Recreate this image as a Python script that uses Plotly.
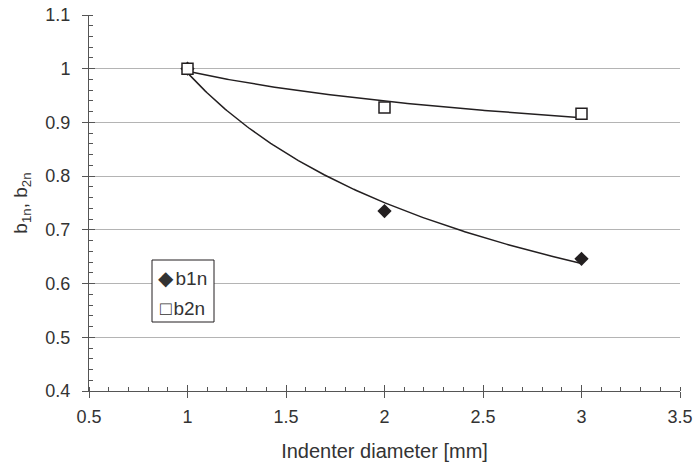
import numpy as np
import plotly.graph_objects as go

diam = [1, 2, 3]
b1n = [1.0, 0.735, 0.646]
b2n = [1.0, 0.928, 0.916]
series_names = ["b1n", "b2n"]

x_title = "Indenter diameter [mm]"
y_title = "b<sub>1n</sub>, b<sub>2n</sub>"

def power_fit(x, y):
    b, lna = np.polyfit(np.log(x), np.log(y), 1)
    xs = np.linspace(min(x), max(x), 200)
    return xs, np.exp(lna) * xs ** b

FONT = "Liberation Sans, Arial, sans-serif"
TXT = "#333333"
LINE = "#231f20"
AX = "#555555"

fig = go.Figure()

for ys in (b1n, b2n):
    xs, yf = power_fit(diam, ys)
    fig.add_trace(go.Scatter(x=xs, y=yf, mode="lines", line=dict(color=LINE, width=1.5),
                             showlegend=False, hoverinfo="skip"))

fig.add_trace(go.Scatter(x=diam, y=b1n, mode="markers", name=series_names[0], showlegend=False,
                         marker=dict(symbol="diamond", size=11, color=LINE)))
fig.add_trace(go.Scatter(x=diam, y=b2n, mode="markers", name=series_names[1], showlegend=False,
                         marker=dict(symbol="square", size=11, color="white",
                                     line=dict(width=1.5, color=LINE))))

# helper invisible trace for the overlay axes (inside half of the crossing major ticks)
fig.add_trace(go.Scatter(x=[None], y=[None], xaxis="x2", yaxis="y2", showlegend=False))

# legend drawn as a framed box with text entries
L, R, T, B = 152, 214, 260, 322
W, H = 695 - 89 - 15, 466 - 15 - 75
def px(xp): return (xp - 89) / W
def py(yp): return (466 - 75 - yp) / H
fig.add_shape(type="rect", xref="paper", yref="paper", x0=px(L), x1=px(R), y0=py(B), y1=py(T),
              line=dict(color=LINE, width=1), fillcolor="white", layer="above")
fig.add_annotation(xref="paper", yref="paper", x=px(L + 4), y=py(278), xanchor="left", yanchor="middle",
                   text="<span style='font-size:20px'>◆</span><span style='font-size:9px'>&nbsp;</span>" + series_names[0],
                   showarrow=False, font=dict(size=19, color=TXT, family=FONT))
fig.add_annotation(xref="paper", yref="paper", x=px(L + 6), y=py(308), xanchor="left", yanchor="middle",
                   text="<span style='font-size:19px'>□</span><span style='font-size:7px'>&nbsp;</span>" + series_names[1],
                   showarrow=False, font=dict(size=19, color=TXT, family=FONT))

fig.update_layout(
    width=695, height=466,
    margin=dict(l=89, r=15, t=15, b=75),
    paper_bgcolor="white", plot_bgcolor="white",
    font=dict(family=FONT, size=18, color=TXT),
    showlegend=False,
    xaxis=dict(range=[0.5, 3.5], dtick=0.5, tick0=0.5, showgrid=False, zeroline=False, automargin=False,
               showline=True, linecolor=AX, linewidth=1,
               ticks="outside", ticklen=6, tickcolor=AX, tickwidth=1,
               ticklabelstandoff=3, tickfont=dict(size=18),
               minor=dict(dtick=0.1, ticks="inside", ticklen=4, tickcolor=AX, showgrid=False),
               title=dict(text=x_title, standoff=18, font=dict(size=20, color=TXT))),
    yaxis=dict(range=[0.4, 1.1], dtick=0.1, tick0=0.4, showgrid=True, gridcolor="#b4b4b4", gridwidth=1,
               zeroline=False, automargin=False, showline=True, linecolor=AX, linewidth=1,
               ticks="outside", ticklen=6, tickcolor=AX, tickwidth=1,
               ticklabelstandoff=8, tickfont=dict(size=18),
               minor=dict(dtick=0.02, ticks="inside", ticklen=4, tickcolor=AX, showgrid=False),
               title=dict(text=y_title, standoff=12, font=dict(size=19, color=TXT))),
    xaxis2=dict(overlaying="x", range=[0.5, 3.5], dtick=0.5, tick0=0.5, showgrid=False, zeroline=False,
                showline=False, ticks="inside", ticklen=6, tickcolor=AX, showticklabels=False,
                side="bottom", anchor="y2", automargin=False),
    yaxis2=dict(overlaying="y", range=[0.4, 1.1], dtick=0.1, tick0=0.4, showgrid=False, zeroline=False,
                showline=False, ticks="inside", ticklen=6, tickcolor=AX, showticklabels=False,
                side="left", anchor="x2", automargin=False),
)

fig.write_html("out.html")
